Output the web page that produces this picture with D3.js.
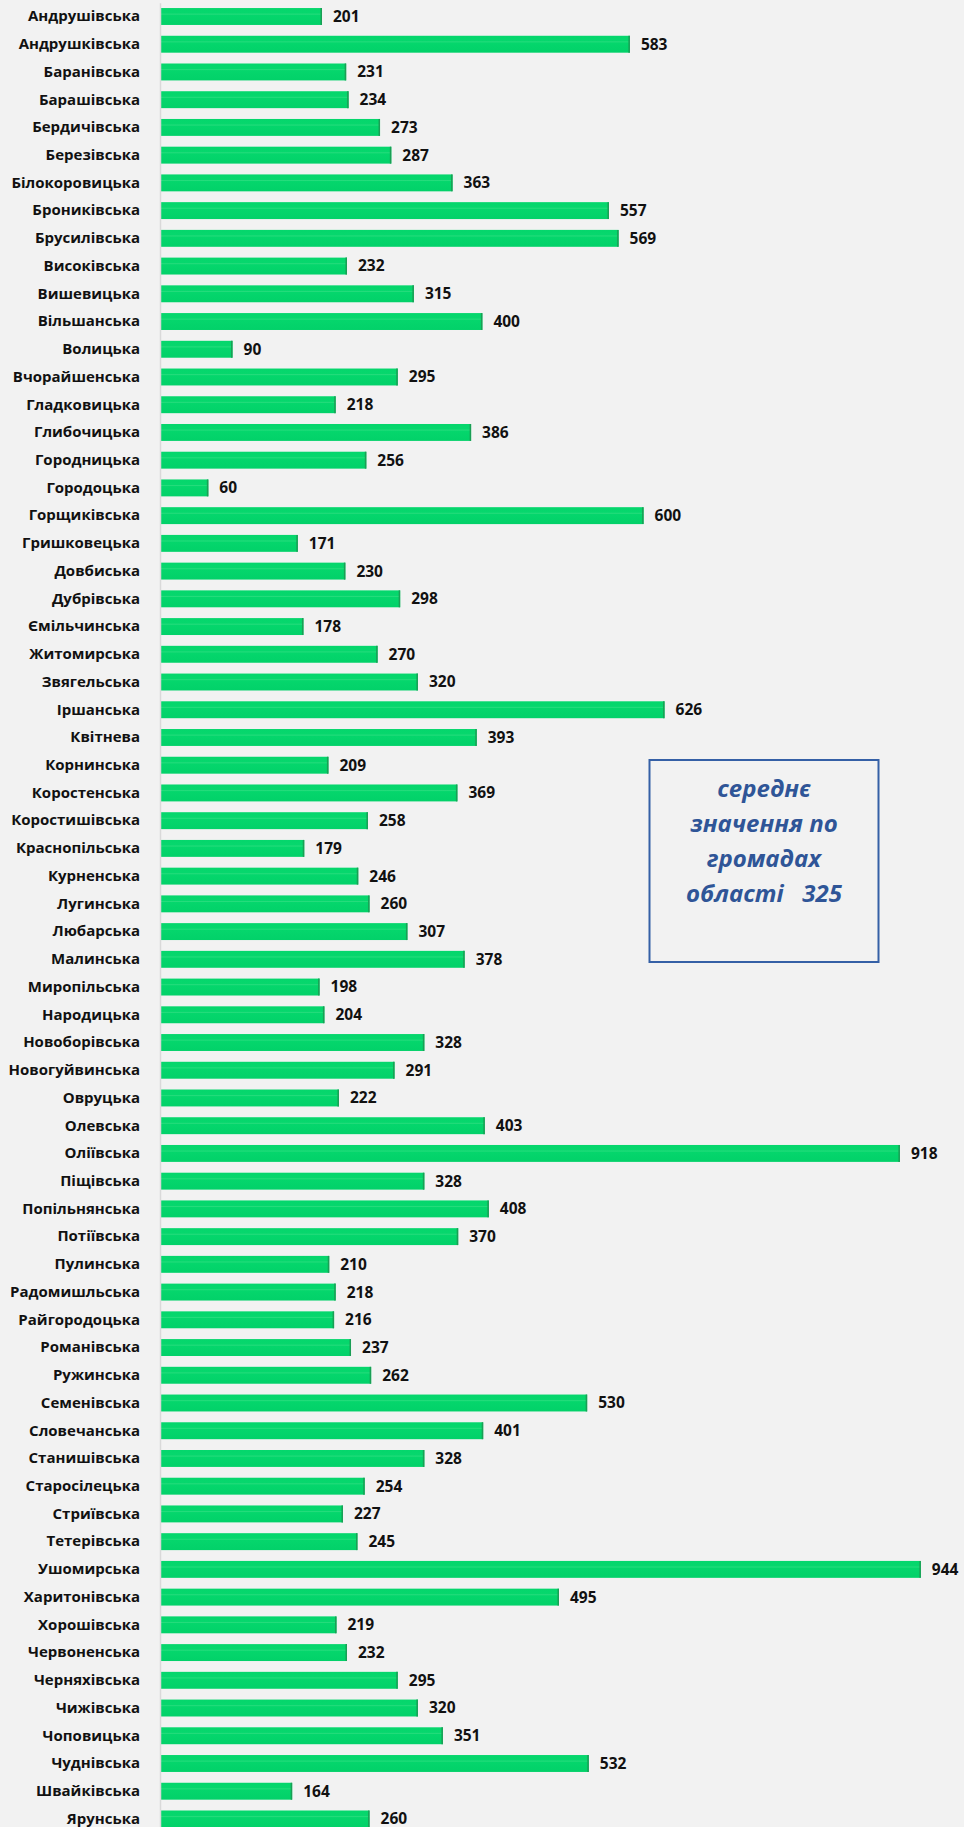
<!DOCTYPE html>
<html>
<head>
<meta charset="utf-8">
<script src="https://cdn.jsdelivr.net/npm/d3@7"></script>
<style>
  html, body { margin: 0; padding: 0; background: #f2f2f2; }
</style>
</head>
<body>
<div id="chart"></div>
<script>
// громади і значення, зверху вниз як на картинці
var names = ["Андрушівська", "Андрушківська", "Баранівська", "Барашівська", "Бердичівська",
             "Березівська", "Білокоровицька", "Брониківська", "Брусилівська", "Високівська",
             "Вишевицька", "Вільшанська", "Волицька", "Вчорайшенська", "Гладковицька",
             "Глибочицька", "Городницька", "Городоцька", "Горщиківська", "Гришковецька",
             "Довбиська", "Дубрівська", "Ємільчинська", "Житомирська", "Звягельська",
             "Іршанська", "Квітнева", "Корнинська", "Коростенська", "Коростишівська",
             "Краснопільська", "Курненська", "Лугинська", "Любарська", "Малинська",
             "Миропільська", "Народицька", "Новоборівська", "Новогуйвинська", "Овруцька",
             "Олевська", "Оліївська", "Піщівська", "Попільнянська", "Потіївська",
             "Пулинська", "Радомишльська", "Райгородоцька", "Романівська", "Ружинська",
             "Семенівська", "Словечанська", "Станишівська", "Старосілецька", "Стриївська",
             "Тетерівська", "Ушомирська", "Харитонівська", "Хорошівська", "Червоненська",
             "Черняхівська", "Чижівська", "Чоповицька", "Чуднівська", "Швайківська",
             "Ярунська"];

var values = [201, 583, 231, 234, 273,
              287, 363, 557, 569, 232,
              315, 400, 90, 295, 218,
              386, 256, 60, 600, 171,
              230, 298, 178, 270, 320,
              626, 393, 209, 369, 258,
              179, 246, 260, 307, 378,
              198, 204, 328, 291, 222,
              403, 918, 328, 408, 370,
              210, 218, 216, 237, 262,
              530, 401, 328, 254, 227,
              245, 944, 495, 219, 232,
              295, 320, 351, 532, 164,
              260];

var xDomain = [0, 1000];

// текст у рамці
var noteLines = ["середнє", "значення по", "громадах", "області   325"];

var width = 964;
var height = 1827;
var axisX = 160;
var pitch = 27.73;
var top0 = 16.5 - pitch / 2;

var data = names.map(function(n, i) { return { name: n, value: values[i] }; });

var svg = d3.select("#chart")
            .append("svg")
            .attr("width", width)
            .attr("height", height)
            .style("display", "block")
            .style("background", "#f2f2f2");

var x = d3.scaleLinear()
          .domain(xDomain)
          .range([axisX, axisX + 806]);

var y = d3.scaleBand()
          .domain(names)
          .range([top0, top0 + pitch * names.length])
          .paddingInner(0.39)
          .paddingOuter(0.195);

var grad = svg.append("defs")
              .append("linearGradient")
              .attr("id", "barGrad")
              .attr("x1", 0).attr("y1", 0)
              .attr("x2", 0).attr("y2", 1);

grad.append("stop").attr("offset", "0%").attr("stop-color", "#05d66c");
grad.append("stop").attr("offset", "30%").attr("stop-color", "#07d76d");
grad.append("stop").attr("offset", "36%").attr("stop-color", "#25dc7c");
grad.append("stop").attr("offset", "42%").attr("stop-color", "#05d66c");
grad.append("stop").attr("offset", "100%").attr("stop-color", "#02d169");

// смуги
var bars = svg.append("g");

bars.selectAll("rect")
    .data(data)
    .enter()
    .append("rect")
    .attr("x", x(0))
    .attr("y", function(d) { return y(d.name); })
    .attr("width", function(d) { return x(d.value) - x(0); })
    .attr("height", y.bandwidth())
    .attr("fill", "url(#barGrad)");

// темніший правий край
bars.selectAll("line")
    .data(data)
    .enter()
    .append("line")
    .attr("x1", function(d) { return x(d.value) - 0.75; })
    .attr("x2", function(d) { return x(d.value) - 0.75; })
    .attr("y1", function(d) { return y(d.name); })
    .attr("y2", function(d) { return y(d.name) + y.bandwidth(); })
    .attr("stroke", "#1b9e55")
    .attr("stroke-width", 1.5);

// вісь з назвами
var axis = svg.append("g")
              .attr("transform", "translate(" + axisX + ",0)")
              .call(d3.axisLeft(y).tickSize(0).tickSizeOuter(0).tickPadding(20));

axis.select(".domain")
    .attr("stroke", "#d9d9d9")
    .attr("stroke-width", 1.5);

axis.selectAll("text")
    .attr("font-family", "'Open Sans', sans-serif")
    .attr("font-size", 15)
    .attr("font-weight", 700)
    .attr("fill", "#111");

// підписи значень
svg.append("g")
   .selectAll("text")
   .data(data)
   .enter()
   .append("text")
   .attr("x", function(d) { return x(d.value) + 11; })
   .attr("y", function(d) { return y(d.name) + y.bandwidth() / 2; })
   .attr("dy", "0.35em")
   .attr("font-family", "'Open Sans', sans-serif")
   .attr("font-size", 15.5)
   .attr("font-weight", 700)
   .attr("fill", "#111")
   .text(function(d) { return d.value; });

// рамка із середнім
var note = svg.append("g");

note.append("rect")
    .attr("x", 649.5)
    .attr("y", 760)
    .attr("width", 229)
    .attr("height", 202)
    .attr("fill", "none")
    .attr("stroke", "#3560a6")
    .attr("stroke-width", 2);

note.selectAll("text")
    .data(noteLines)
    .enter()
    .append("text")
    .attr("x", 764)
    .attr("y", function(d, i) { return 797 + i * 35; })
    .attr("text-anchor", "middle")
    .attr("font-family", "'Open Sans', sans-serif")
    .attr("font-size", 24)
    .attr("font-weight", 700)
    .attr("font-style", "italic")
    .attr("fill", "#2f5597")
    .style("white-space", "pre")
    .text(function(d) { return d; });
</script>
</body>
</html>
